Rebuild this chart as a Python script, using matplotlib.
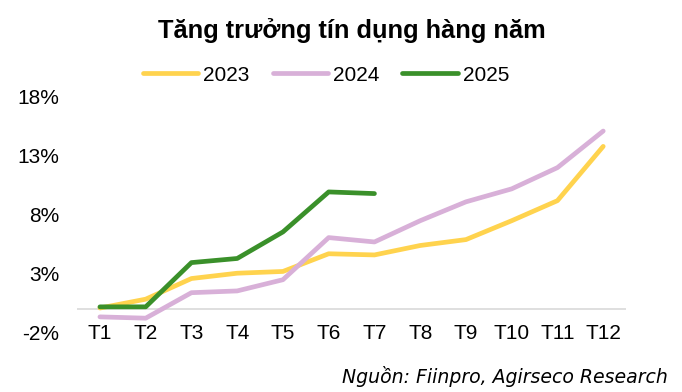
import numpy as np
import matplotlib
matplotlib.use("Agg")
import matplotlib.pyplot as plt

plt.rcParams['font.family'] = ['Liberation Sans', 'DejaVu Sans']

# data (% credit growth YTD)
months = ["T1", "T2", "T3", "T4", "T5", "T6", "T7", "T8", "T9", "T10", "T11", "T12"]
g2023 = [0.1, 0.85, 2.6, 3.05, 3.2, 4.7, 4.6, 5.4, 5.9, 7.5, 9.2, 13.8]
g2024 = [-0.65, -0.76, 1.4, 1.55, 2.5, 6.07, 5.7, 7.5, 9.1, 10.2, 12.0, 15.1]
g2025 = [0.2, 0.2, 3.95, 4.3, 6.55, 9.94, 9.8]
yticks = [-2, 3, 8, 13, 18]

c2023 = "#FFD34E"
c2024 = "#D8B0D8"
c2025 = "#3A902A"

fig = plt.figure(figsize=(6.82, 3.92), dpi=100)
ax = fig.add_axes([0.113, 0.151, 0.805, 0.602])

x = np.arange(len(months))
ax.plot(x, g2023, color=c2023, lw=3.4, solid_capstyle='round', label="2023")
ax.plot(x, g2024, color=c2024, lw=3.4, solid_capstyle='round', label="2024")
ax.plot(x[:len(g2025)], g2025, color=c2025, lw=3.4, solid_capstyle='round', label="2025")

ax.axhline(0, color="#d9d9d9", lw=1.2, zorder=0)
ax.set_xlim(-0.5, len(months) - 0.5)
ax.set_ylim(-2, 18)
ax.set_xticks(x)
ax.set_xticklabels(months)
ax.set_yticks(yticks)
ax.set_yticklabels([f"{v}%" for v in yticks])
ax.tick_params(axis='both', length=0, labelsize=15)
ax.tick_params(axis='x', pad=-6)
ax.tick_params(axis='y', pad=13)
for s in ax.spines.values():
    s.set_visible(False)

fig.text(0.516, 0.923, "Tăng trưởng tín dụng hàng năm", ha='center', va='center',
         fontsize=18.3, fontweight='bold')
fig.legend(loc='center', bbox_to_anchor=(0.478, 0.808), ncol=3, frameon=False,
           fontsize=15, handlelength=2.65, handletextpad=0.25, columnspacing=1.1)
fig.text(0.98, 0.04, "Nguồn: Fiinpro, Agirseco Research", ha='right', va='center',
         fontsize=13.6, style='italic', family='DejaVu Sans')

fig.savefig("out.png", dpi=100)
